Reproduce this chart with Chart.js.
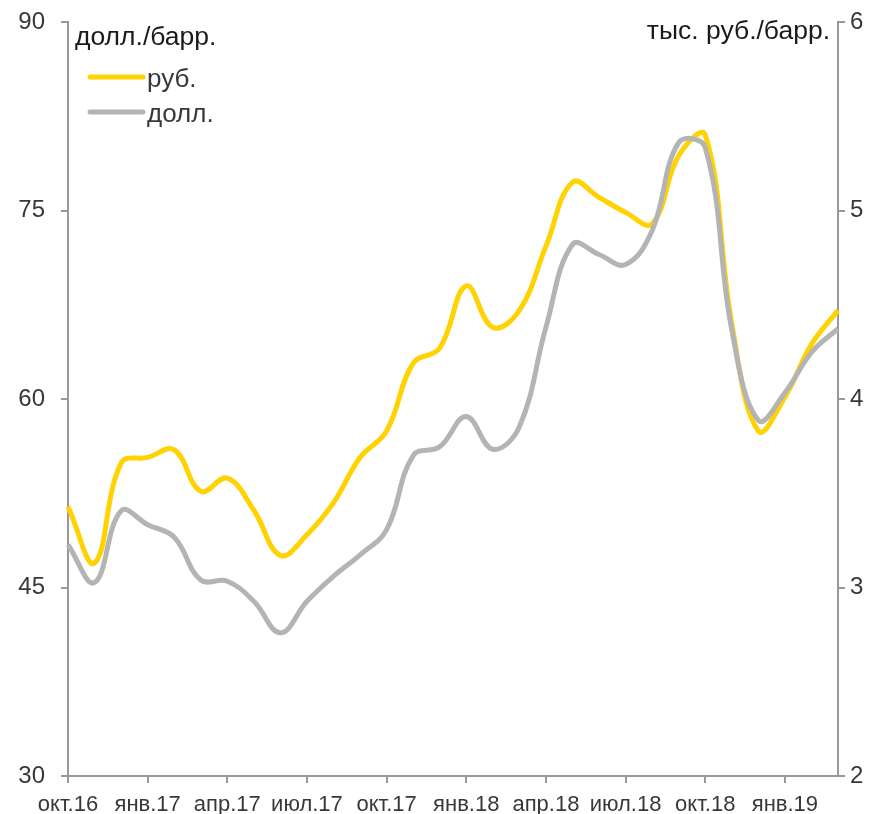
<!DOCTYPE html>
<html>
<head>
<meta charset="utf-8">
<script src="https://cdn.jsdelivr.net/npm/chart.js@4"></script>
<style>
  body { margin: 0; background: #fff; }
  canvas { display: block; }
</style>
</head>
<body>
<canvas id="chart" width="875" height="814"></canvas>
<script>
// monthly points, окт.16 .. мар.19
const months = ['окт.16', 'ноя.16', 'дек.16', 'янв.17', 'фев.17', 'мар.17', 'апр.17', 'май.17', 'июн.17',
    'июл.17', 'авг.17', 'сен.17', 'окт.17', 'ноя.17', 'дек.17', 'янв.18', 'фев.18', 'мар.18', 'апр.18',
    'май.18', 'июн.18', 'июл.18', 'авг.18', 'сен.18', 'окт.18', 'ноя.18', 'дек.18', 'янв.19', 'фев.19', 'мар.19'];

// тыс. руб./барр. (right axis)
const rubPrice = [3.43, 3.13, 3.66, 3.69, 3.73, 3.51, 3.58, 3.41, 3.17, 3.28, 3.45, 3.69, 3.83, 4.19, 4.27,
    4.60, 4.38, 4.47, 4.81, 5.15, 5.07, 4.99, 4.93, 5.29, 5.40, 4.40, 3.83, 4.01, 4.29, 4.47];

// долл./барр. (left axis)
const usdPrice = [48.4, 45.4, 51.1, 50.0, 49.0, 45.6, 45.5, 43.9, 41.4, 43.9, 45.9, 47.6, 49.6, 55.5, 56.2,
    58.6, 56.0, 57.8, 65.7, 72.3, 71.5, 70.7, 73.4, 80.4, 80.0, 65.5, 58.3, 60.5, 63.7, 65.6];

const seriesNames = ['руб.', 'долл.'];
const leftTitle = 'долл./барр.';
const rightTitle = 'тыс. руб./барр.';
const labelEvery = 3;

const YELLOW = '#FFD200';
const GREY = '#B4B4B4';
const AXIS = '#999999';
const TEXT = '#383838';
const FONT = 'Liberation Sans, Arial, sans-serif';

// titles and legend drawn on top of the plot
const overlay = {
    id: 'overlay',
    afterDraw(chart) {
        const ctx = chart.ctx;
        const area = chart.chartArea;
        ctx.save();
        ctx.fillStyle = '#1a1a1a';
        ctx.font = `26.5px ${FONT}`;
        ctx.textBaseline = 'alphabetic';
        ctx.textAlign = 'left';
        ctx.fillText(leftTitle, area.left + 7, 45);
        ctx.textAlign = 'right';
        ctx.fillText(rightTitle, area.right - 8, 39);

        // legend
        const colors = [YELLOW, GREY];
        ctx.font = `26px ${FONT}`;
        ctx.textAlign = 'left';
        ctx.textBaseline = 'middle';
        ctx.lineCap = 'round';
        ctx.lineWidth = 5;
        seriesNames.forEach((name, i) => {
            const y = 77 + i * 35;
            ctx.strokeStyle = colors[i];
            ctx.beginPath();
            ctx.moveTo(area.left + 22, y);
            ctx.lineTo(area.left + 75, y);
            ctx.stroke();
            ctx.fillStyle = TEXT;
            ctx.fillText(name, area.left + 79, y + 3);
        });
        ctx.restore();
    }
};

// keep the plot edges fixed, no extra room for tick label overflow
const noPad = (s) => { s.paddingTop = 0; s.paddingBottom = 0; };

new Chart(document.getElementById('chart'), {
    type: 'line',
    data: {
        labels: months,
        datasets: [{
            label: seriesNames[0],
            data: rubPrice,
            yAxisID: 'y1',
            borderColor: YELLOW,
            borderWidth: 5,
            pointRadius: 0,
            tension: 0.4,
            order: 2
        }, {
            label: seriesNames[1],
            data: usdPrice,
            yAxisID: 'y',
            borderColor: GREY,
            borderWidth: 5,
            pointRadius: 0,
            tension: 0.4,
            order: 1
        }]
    },
    options: {
        responsive: false,
        animation: false,
        layout: { padding: { top: 22, left: 0, right: 0, bottom: 0 } },
        plugins: {
            legend: { display: false },
            tooltip: { enabled: false }
        },
        scales: {
            x: {
                offset: false,
                grid: {
                    drawOnChartArea: false,
                    drawTicks: true,
                    tickLength: 7,
                    lineWidth: 2,
                    color: (c) => (c.index % labelEvery === 0 ? AXIS : 'rgba(0,0,0,0)')
                },
                border: { color: AXIS, width: 2 },
                ticks: {
                    autoSkip: false,
                    maxRotation: 0,
                    padding: 9,
                    color: TEXT,
                    font: { family: FONT, size: 22 },
                    callback: (v, i) => (i % labelEvery === 0 ? months[i] : '')
                },
                afterFit: (s) => { s.height = 38; }
            },
            y: {
                position: 'left',
                min: 30,
                max: 90,
                grid: { drawOnChartArea: false, tickLength: 7, lineWidth: 2, color: AXIS },
                border: { color: AXIS, width: 2 },
                ticks: {
                    stepSize: 15,
                    padding: 16,
                    color: TEXT,
                    font: { family: FONT, size: 24 }
                },
                afterFit: (s) => { s.width = 68; noPad(s); }
            },
            y1: {
                position: 'right',
                min: 2,
                max: 6,
                grid: { drawOnChartArea: false, tickLength: 7, lineWidth: 2, color: AXIS },
                border: { color: AXIS, width: 2 },
                ticks: {
                    stepSize: 1,
                    padding: 5,
                    color: TEXT,
                    font: { family: FONT, size: 24 }
                },
                afterFit: (s) => { s.width = 37; noPad(s); }
            }
        }
    },
    plugins: [overlay]
});
</script>
</body>
</html>
